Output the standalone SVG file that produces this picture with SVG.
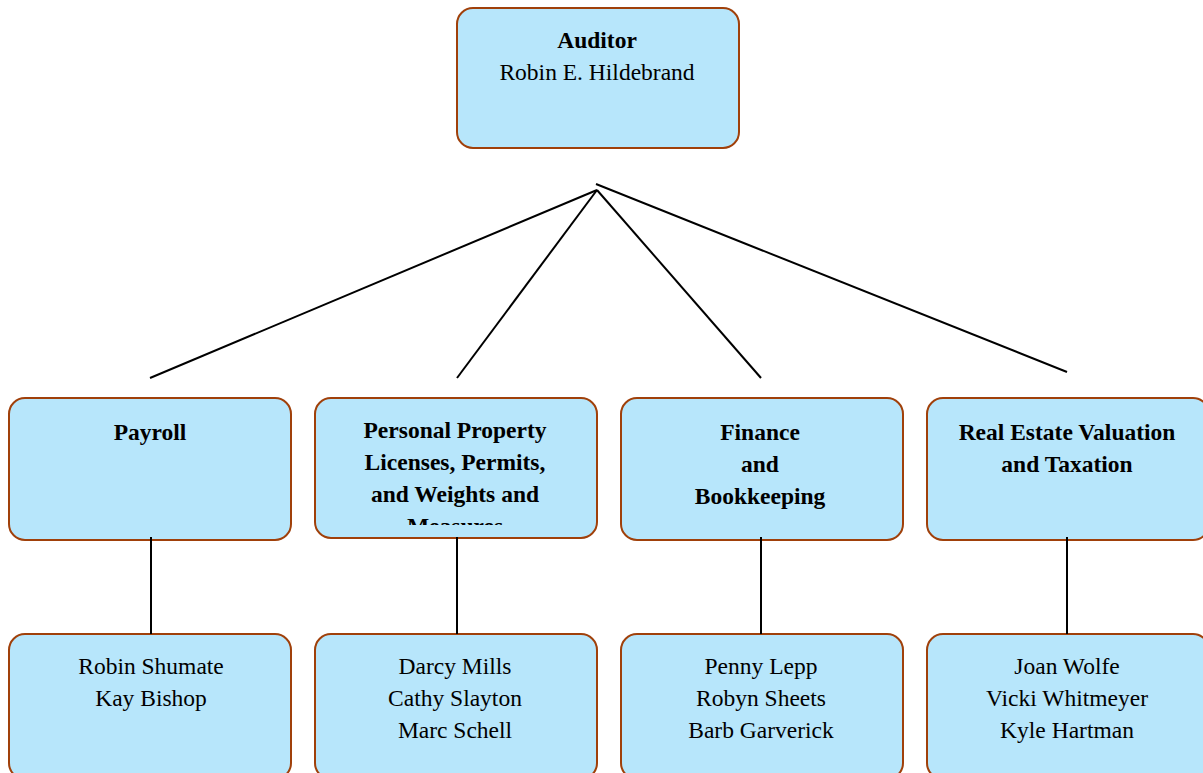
<svg xmlns="http://www.w3.org/2000/svg" width="1203" height="773" viewBox="0 0 1203 773">
<style>
.box{fill:#b7e6fb;stroke:#a0400a;stroke-width:2}
.t{font-family:"Liberation Serif","Times New Roman",serif;font-size:23.5px;fill:#000;text-anchor:middle}
.b{font-weight:bold}
.c{stroke:#000;stroke-width:2;fill:none}
</style>
<defs>
<clipPath id="clipPP"><rect x="315" y="398" width="282" height="127"/></clipPath>
</defs>
<rect width="1203" height="773" fill="#fff"/>
<g id="auditor">
<rect class="box" x="457" y="8" width="282" height="140" rx="16"/>
<text class="t b" x="597" y="48">Auditor</text>
<text class="t" x="597" y="80">Robin E. Hildebrand</text>
</g>
<g id="payroll">
<rect class="box" x="9" y="398" width="282" height="142" rx="16"/>
<text class="t b" x="150" y="440">Payroll</text>
</g>
<g id="personal-property">
<rect class="box" x="315" y="398" width="282" height="140" rx="16"/>
<g clip-path="url(#clipPP)">
<text class="t b" x="455" y="438">Personal Property</text>
<text class="t b" x="455" y="470">Licenses, Permits,</text>
<text class="t b" x="455" y="502">and Weights and</text>
<text class="t b" x="455" y="534">Measures</text>
</g>
</g>
<g id="finance">
<rect class="box" x="621" y="398" width="282" height="142" rx="16"/>
<text class="t b" x="760" y="440">Finance</text>
<text class="t b" x="760" y="472">and</text>
<text class="t b" x="760" y="504">Bookkeeping</text>
</g>
<g id="real-estate">
<rect class="box" x="927" y="398" width="282" height="142" rx="16"/>
<text class="t b" x="1067" y="440">Real Estate Valuation</text>
<text class="t b" x="1067" y="472">and Taxation</text>
</g>
<g id="payroll-staff">
<rect class="box" x="9" y="634" width="282" height="145" rx="16"/>
<text class="t" x="151" y="674">Robin Shumate</text>
<text class="t" x="151" y="706">Kay Bishop</text>
</g>
<g id="pp-staff">
<rect class="box" x="315" y="634" width="282" height="145" rx="16"/>
<text class="t" x="455" y="674">Darcy Mills</text>
<text class="t" x="455" y="706">Cathy Slayton</text>
<text class="t" x="455" y="738">Marc Schell</text>
</g>
<g id="finance-staff">
<rect class="box" x="621" y="634" width="282" height="145" rx="16"/>
<text class="t" x="761" y="674">Penny Lepp</text>
<text class="t" x="761" y="706">Robyn Sheets</text>
<text class="t" x="761" y="738">Barb Garverick</text>
</g>
<g id="re-staff">
<rect class="box" x="927" y="634" width="282" height="145" rx="16"/>
<text class="t" x="1067" y="674">Joan Wolfe</text>
<text class="t" x="1067" y="706">Vicki Whitmeyer</text>
<text class="t" x="1067" y="738">Kyle Hartman</text>
</g>
<g id="connectors">
<line class="c" x1="597" y1="190" x2="150" y2="378"/>
<line class="c" x1="597" y1="190" x2="457" y2="378"/>
<line class="c" x1="597" y1="190" x2="761" y2="378"/>
<line class="c" x1="596" y1="184" x2="1067" y2="372"/>
<line class="c" x1="151" y1="537" x2="151" y2="634"/>
<line class="c" x1="457" y1="537" x2="457" y2="634"/>
<line class="c" x1="761" y1="537" x2="761" y2="634"/>
<line class="c" x1="1067" y1="537" x2="1067" y2="634"/>
</g>
</svg>
